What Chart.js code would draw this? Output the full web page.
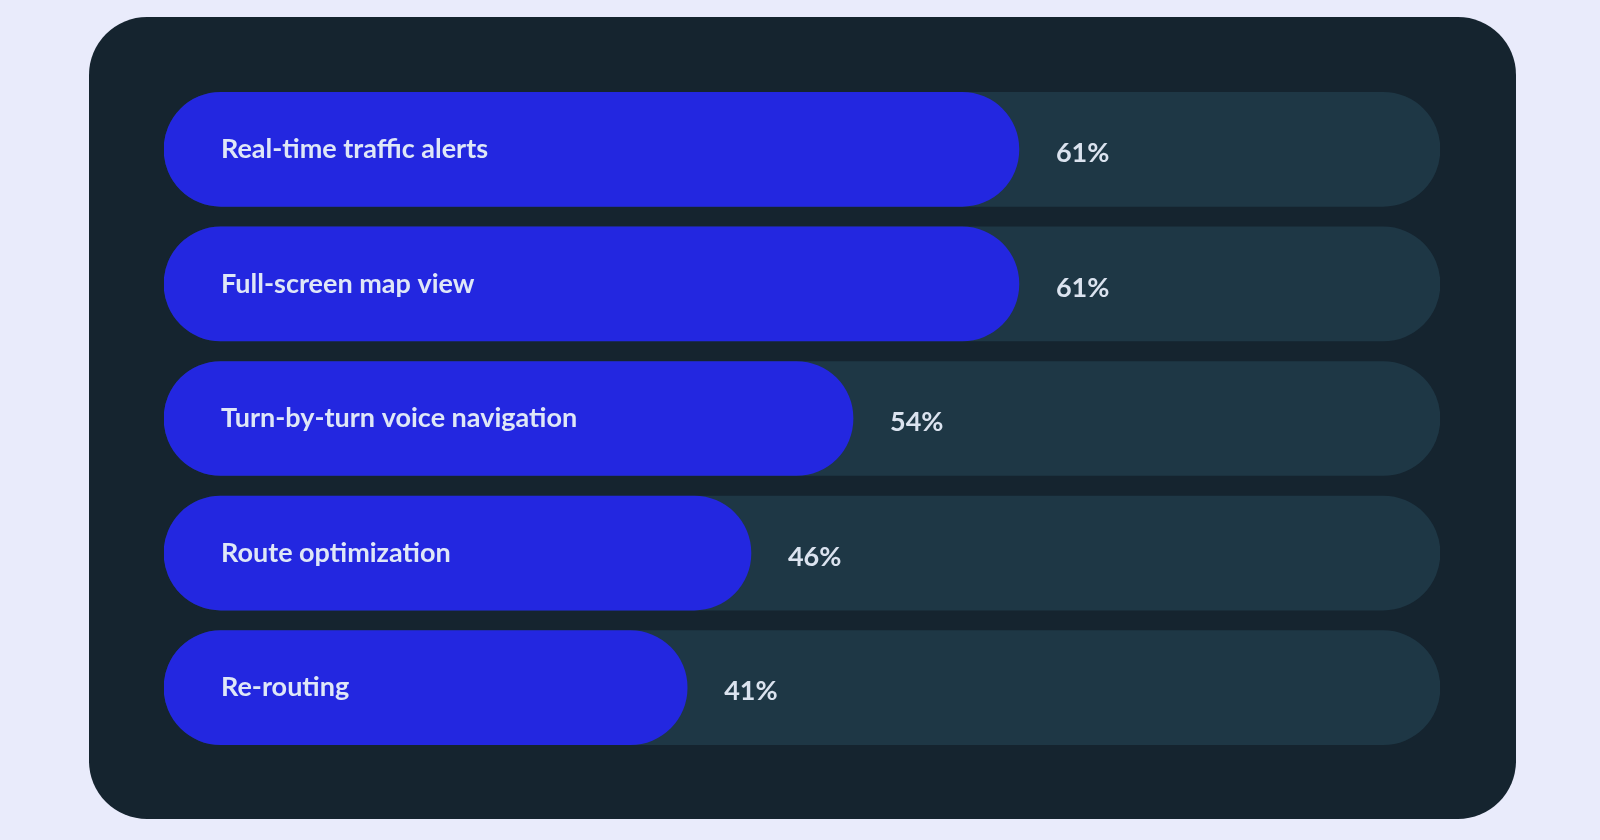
<!DOCTYPE html>
<html>
<head>
<meta charset="utf-8">
<script src="https://cdn.jsdelivr.net/npm/chart.js@4"></script>
<style>
  html, body { margin: 0; padding: 0; }
  body { width: 1600px; height: 840px; background: #e9ebfb; position: relative; overflow: hidden; }
  .card {
    position: absolute; left: 89px; top: 17px; width: 1427px; height: 802px;
    background: #15242f; border-radius: 58px;
  }
  #wrap { position: absolute; left: 0; top: 0; width: 1600px; height: 840px; }
</style>
</head>
<body>
<div class="card"></div>
<div id="wrap"><canvas id="featureChart"></canvas></div>
<script>
const features = ['Real-time traffic alerts', 'Full-screen map view', 'Turn-by-turn voice navigation', 'Route optimization', 'Re-routing'];
// printed percentages
const shares = [61, 61, 54, 46, 41];
// bar lengths as drawn in the picture (top two bars run longer than their labels)
const barLengths = [67, 67, 54, 46, 41];
const trackValues = [100, 100, 100, 100, 100];

const labelFont = 'bold 27px Lato, "Open Sans", sans-serif';

// draw category names inside the bars and the percentages after them
const barLabels = {
    id: 'barLabels',
    afterDatasetsDraw(chart) {
        const ctx = chart.ctx;
        const meta = chart.getDatasetMeta(0);
        ctx.save();
        ctx.font = labelFont;
        ctx.textBaseline = 'middle';
        meta.data.forEach((bar, i) => {
            const left = bar.base;
            ctx.fillStyle = '#dfe7f7';
            ctx.textAlign = 'left';
            ctx.fillText(features[i], left + 57, bar.y);
            ctx.fillStyle = '#dbe3ef';
            ctx.fillText(shares[i] + '%', bar.x + 37, bar.y + 4);
        });
        ctx.restore();
    }
};

const ctx = document.getElementById('featureChart').getContext('2d');
new Chart(ctx, {
    type: 'bar',
    data: {
        labels: features,
        datasets: [
            {
                data: barLengths,
                backgroundColor: '#2327e0',
                borderRadius: 57,
                borderSkipped: false,
                barThickness: 114,
                grouped: false
            },
            {
                data: trackValues,
                backgroundColor: '#1e3745',
                borderRadius: 57,
                borderSkipped: false,
                barThickness: 114,
                grouped: false
            }
        ]
    },
    options: {
        indexAxis: 'y',
        responsive: true,
        maintainAspectRatio: false,
        animation: false,
        layout: { padding: { left: 164, right: 160, top: 82, bottom: 85 } },
        scales: {
            x: { display: false, min: 0, max: 100 },
            y: { display: false }
        },
        plugins: {
            legend: { display: false },
            tooltip: { enabled: false }
        }
    },
    plugins: [barLabels]
});
</script>
</body>
</html>
